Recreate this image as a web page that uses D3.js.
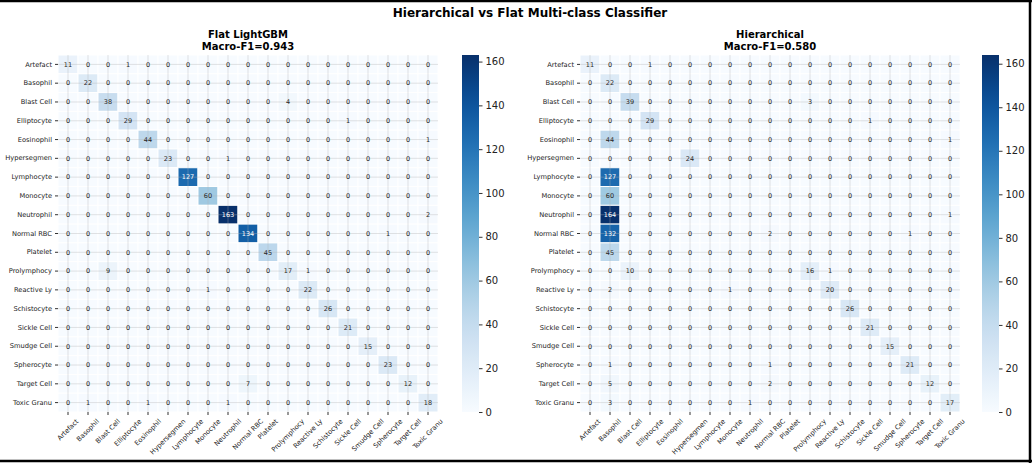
<!DOCTYPE html>
<html>
<head>
<meta charset="utf-8">
<script src="https://cdn.jsdelivr.net/npm/d3@7"></script>
<style>
  body { margin: 0; background: #fff; }
  svg { display: block; }
  text { font-family: "DejaVu Sans", sans-serif; }
</style>
</head>
<body>
<div id="chart"></div>
<script>
// class names (truncated as in the source figure)
var classes = ["Artefact", "Basophil", "Blast Cell", "Elliptocyte", "Eosinophil",
  "Hypersegmen", "Lymphocyte", "Monocyte", "Neutrophil", "Normal RBC", "Platelet",
  "Prolymphocy", "Reactive Ly", "Schistocyte", "Sickle Cell", "Smudge Cell",
  "Spherocyte", "Target Cell", "Toxic Granu"];

// rows = true class, cols = predicted class
var flatCounts = [
  [11,0,0,1,0,0,0,0,0,0,0,0,0,0,0,0,0,0,0],
  [0,22,0,0,0,0,0,0,0,0,0,0,0,0,0,0,0,0,0],
  [0,0,38,0,0,0,0,0,0,0,0,4,0,0,0,0,0,0,0],
  [0,0,0,29,0,0,0,0,0,0,0,0,0,0,1,0,0,0,0],
  [0,0,0,0,44,0,0,0,0,0,0,0,0,0,0,0,0,0,1],
  [0,0,0,0,0,23,0,0,1,0,0,0,0,0,0,0,0,0,0],
  [0,0,0,0,0,0,127,0,0,0,0,0,0,0,0,0,0,0,0],
  [0,0,0,0,0,0,0,60,0,0,0,0,0,0,0,0,0,0,0],
  [0,0,0,0,0,0,0,0,163,0,0,0,0,0,0,0,0,0,2],
  [0,0,0,0,0,0,0,0,0,134,0,0,0,0,0,0,1,0,0],
  [0,0,0,0,0,0,0,0,0,0,45,0,0,0,0,0,0,0,0],
  [0,0,9,0,0,0,0,0,0,0,0,17,1,0,0,0,0,0,0],
  [0,0,0,0,0,0,0,1,0,0,0,0,22,0,0,0,0,0,0],
  [0,0,0,0,0,0,0,0,0,0,0,0,0,26,0,0,0,0,0],
  [0,0,0,0,0,0,0,0,0,0,0,0,0,0,21,0,0,0,0],
  [0,0,0,0,0,0,0,0,0,0,0,0,0,0,0,15,0,0,0],
  [0,0,0,0,0,0,0,0,0,0,0,0,0,0,0,0,23,0,0],
  [0,0,0,0,0,0,0,0,0,7,0,0,0,0,0,0,0,12,0],
  [0,1,0,0,1,0,0,0,1,0,0,0,0,0,0,0,0,0,18]
];

var hierCounts = [
  [11,0,0,1,0,0,0,0,0,0,0,0,0,0,0,0,0,0,0],
  [0,22,0,0,0,0,0,0,0,0,0,0,0,0,0,0,0,0,0],
  [0,0,39,0,0,0,0,0,0,0,0,3,0,0,0,0,0,0,0],
  [0,0,0,29,0,0,0,0,0,0,0,0,0,0,1,0,0,0,0],
  [0,44,0,0,0,0,0,0,0,0,0,0,0,0,0,0,0,0,1],
  [0,0,0,0,0,24,0,0,0,0,0,0,0,0,0,0,0,0,0],
  [0,127,0,0,0,0,0,0,0,0,0,0,0,0,0,0,0,0,0],
  [0,60,0,0,0,0,0,0,0,0,0,0,0,0,0,0,0,0,0],
  [0,164,0,0,0,0,0,0,0,0,0,0,0,0,0,0,0,0,1],
  [0,132,0,0,0,0,0,0,0,2,0,0,0,0,0,0,1,0,0],
  [0,45,0,0,0,0,0,0,0,0,0,0,0,0,0,0,0,0,0],
  [0,0,10,0,0,0,0,0,0,0,0,16,1,0,0,0,0,0,0],
  [0,2,0,0,0,0,0,1,0,0,0,0,20,0,0,0,0,0,0],
  [0,0,0,0,0,0,0,0,0,0,0,0,0,26,0,0,0,0,0],
  [0,0,0,0,0,0,0,0,0,0,0,0,0,0,21,0,0,0,0],
  [0,0,0,0,0,0,0,0,0,0,0,0,0,0,0,15,0,0,0],
  [0,1,0,0,0,0,0,0,0,1,0,0,0,0,0,0,21,0,0],
  [0,5,0,0,0,0,0,0,0,2,0,0,0,0,0,0,0,12,0],
  [0,3,0,0,0,0,0,0,1,0,0,0,0,0,0,0,0,0,17]
];

var flatTitle = ["Flat LightGBM", "Macro-F1=0.943"];
var hierTitle = ["Hierarchical", "Macro-F1=0.580"];
var figTitle = "Hierarchical vs Flat Multi-class Classifier";
var cbarTicks = [0, 20, 40, 60, 80, 100, 120, 140, 160];

var W = 1032, H = 463;

var svg = d3.select("#chart")
  .append("svg")
    .attr("width", W)
    .attr("height", H);

svg.append("rect").attr("width", W).attr("height", H).attr("fill", "#fff");

svg.append("text")
  .attr("x", 530).attr("y", 17)
  .attr("text-anchor", "middle")
  .attr("font-size", 12)
  .attr("font-weight", "bold")
  .text(figTitle);

// seaborn style: dark text on light cells, white on dark
function textColor(c) {
  var rgb = d3.rgb(c);
  function ch(v) { v = v / 255; return v <= 0.03928 ? v / 12.92 : Math.pow((v + 0.055) / 1.055, 2.4); }
  var lum = 0.2126 * ch(rgb.r) + 0.7152 * ch(rgb.g) + 0.0722 * ch(rgb.b);
  return lum > 0.408 ? "#262626" : "#fff";
}

function drawPanel(matrix, title, left, cbLeft, gradId) {
  var top = 55, bottom = 412, right = left + 380;
  var vmax = d3.max(matrix, function(r) { return d3.max(r); });

  var x = d3.scaleBand().domain(d3.range(classes.length)).range([left, right]);
  var y = d3.scaleBand().domain(d3.range(classes.length)).range([top, bottom]);
  var color = function(v) { return d3.interpolateBlues(v / vmax); };

  var g = svg.append("g");

  // title
  g.append("text")
    .attr("x", (left + right) / 2).attr("y", 38)
    .attr("text-anchor", "middle")
    .attr("font-size", 10).attr("font-weight", "bold")
    .text(title[0]);
  g.append("text")
    .attr("x", (left + right) / 2).attr("y", 50)
    .attr("text-anchor", "middle")
    .attr("font-size", 10).attr("font-weight", "bold")
    .text(title[1]);

  var cells = [];
  matrix.forEach(function(row, i) {
    row.forEach(function(v, j) { cells.push({r: i, c: j, v: v}); });
  });

  g.append("g").selectAll("rect")
    .data(cells)
    .enter().append("rect")
      .attr("x", function(d) { return x(d.c); })
      .attr("y", function(d) { return y(d.r); })
      .attr("width", x.bandwidth())
      .attr("height", y.bandwidth())
      .attr("fill", function(d) { return color(d.v); })
      .attr("stroke", "#fff")
      .attr("stroke-width", 1);

  // grid lines through the cell centres
  var grid = g.append("g").attr("stroke", "#b0b0b0").attr("stroke-opacity", 0.45).attr("stroke-width", 0.8);
  classes.forEach(function(c, i) {
    grid.append("line")
      .attr("x1", x(i) + x.bandwidth() / 2).attr("x2", x(i) + x.bandwidth() / 2)
      .attr("y1", top).attr("y2", bottom);
    grid.append("line")
      .attr("x1", left).attr("x2", right)
      .attr("y1", y(i) + y.bandwidth() / 2).attr("y2", y(i) + y.bandwidth() / 2);
  });

  g.append("g").selectAll("text")
    .data(cells)
    .enter().append("text")
      .attr("x", function(d) { return x(d.c) + x.bandwidth() / 2; })
      .attr("y", function(d) { return y(d.r) + y.bandwidth() / 2; })
      .attr("dy", "0.35em")
      .attr("text-anchor", "middle")
      .attr("font-size", 6.5)
      .attr("fill", function(d) { return textColor(color(d.v)); })
      .text(function(d) { return d.v; });

  // y axis
  var yAxis = g.append("g")
    .attr("transform", "translate(" + left + ",0)")
    .call(d3.axisLeft(y).tickSize(3).tickPadding(3).tickFormat(function(i) { return classes[i]; }));
  yAxis.select(".domain").remove();
  yAxis.selectAll("text").attr("font-size", 6.7).attr("fill", "#222").style("font-family", "DejaVu Sans");
  yAxis.selectAll("line").attr("stroke", "#333");

  // x axis, labels rotated 45 and centred on tick
  var xAxis = g.append("g")
    .attr("transform", "translate(0," + bottom + ")")
    .call(d3.axisBottom(x).tickSize(3).tickFormat(""));
  xAxis.select(".domain").remove();
  xAxis.selectAll("line").attr("stroke", "#333");

  var fs = 6.7, labTop = bottom + 6;
  g.append("g").selectAll("text")
    .data(classes)
    .enter().append("text")
      .attr("font-size", fs)
      .attr("fill", "#222")
      .attr("text-anchor", "middle")
      .attr("dominant-baseline", "central")
      .text(function(d) { return d; })
      .each(function(d, i) {
        var L = this.getComputedTextLength();
        var h = (L + fs) * Math.SQRT1_2;
        var cx = x(i) + x.bandwidth() / 2;
        d3.select(this).attr("transform", "translate(" + cx + "," + (labTop + h / 2) + ") rotate(-45)");
      });

  // colour bar
  var defs = svg.append("defs");
  var grad = defs.append("linearGradient")
    .attr("id", gradId)
    .attr("x1", 0).attr("x2", 0).attr("y1", 1).attr("y2", 0);
  d3.range(0, 1.0001, 0.05).forEach(function(t) {
    grad.append("stop").attr("offset", t).attr("stop-color", d3.interpolateBlues(t));
  });
  var cbW = 17;
  g.append("rect")
    .attr("x", cbLeft).attr("y", top)
    .attr("width", cbW).attr("height", bottom - top)
    .attr("fill", "url(#" + gradId + ")");
  var cy = d3.scaleLinear().domain([0, vmax]).range([bottom, top]);
  var cAxis = g.append("g")
    .attr("transform", "translate(" + (cbLeft + cbW) + ",0)")
    .call(d3.axisRight(cy).tickValues(cbarTicks).tickSize(3.5).tickPadding(3));
  cAxis.select(".domain").remove();
  cAxis.selectAll("text").attr("font-size", 10).attr("fill", "#222").style("font-family", "DejaVu Sans");
  cAxis.selectAll("line").attr("stroke", "#333");
}

drawPanel(flatCounts, flatTitle, 58, 462, "gFlat");
drawPanel(hierCounts, hierTitle, 580, 982, "gHier");

// figure frame (top, right, bottom)
var frame = svg.append("g").attr("stroke", "#000").attr("stroke-width", 2.5);
frame.append("line").attr("x1", 0).attr("x2", W).attr("y1", 1).attr("y2", 1);
frame.append("line").attr("x1", W - 2).attr("x2", W - 2).attr("y1", 0).attr("y2", H);
frame.append("line").attr("x1", 0).attr("x2", W).attr("y1", H - 2).attr("y2", H - 2);
</script>
</body>
</html>
